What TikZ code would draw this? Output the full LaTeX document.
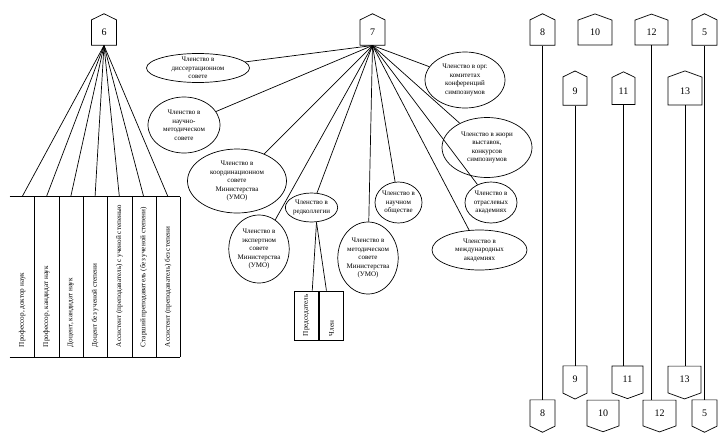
\documentclass[tikz,border=0pt]{standalone}
\usepackage{fontspec}
\setmainfont{Liberation Serif}
\usetikzlibrary{shapes,positioning}

\tikzset{
  tag/.style={signal, signal to=north, draw, signal pointer angle=128, minimum width=25pt, minimum height=27pt, inner sep=1pt, font=\fontsize{10}{11}\selectfont},
  tagdown/.style={tag, signal to=south},
  widetag/.style={signal pointer angle=140},
  member/.style={ellipse, draw, align=center, inner sep=0pt, font=\fontsize{7}{8.5}\selectfont},
  rankcol/.style={minimum width=24.3pt, minimum height=160pt, inner sep=0pt},
  ranktext/.style={rotate=90, anchor=west, inner sep=0pt, font=\fontsize{7.2}{8}\selectfont},
  rolecol/.style={draw, minimum width=24.5pt, minimum height=49pt, inner sep=0pt},
}

\begin{document}
\begin{tikzpicture}[x=1pt, y=-1pt, line width=0.7pt]
    \useasboundingbox (0,0) rectangle (725,445);

    % Positions
    \node[tag] (n6) at (104,32.5) {6};
    \foreach \rank [count=\i] in {{Профессор, доктор наук}, {Профессор, кандидат наук}, {Доцент, кандидат наук}, {Доцент без ученой степени}, {Ассистент (преподаватель) с ученой степенью}, {Старший преподаватель (без ученой степени)}, {Ассистент (преподаватель) без степени}} {
        \node[rankcol] (c\i) at ({22.15+24.3*(\i-1)},277) {};
        \node[ranktext] at ([yshift=10pt]c\i.south) {\rank};
        \draw (n6.south) -- (c\i.north);
        \draw (c\i.north east) -- (c\i.south east);
    }
    \draw (c1.north west) -- (c7.north east) (c1.south west) -- (c7.south east);

    % Memberships
    \node[tag] (n7) at (372.5,32.5) {7};
    \node[member, minimum width=103pt, minimum height=29pt, inner ysep=-2pt] (diss) at (198,68) {Членство в\\диссертационном\\совете};
    \node[member, minimum width=72pt, minimum height=56pt] (method) at (184,125) {Членство в\\научно-\\методическом\\совете};
    \node[member, minimum width=99pt, minimum height=64pt] (coord) at (237,181) {Членство в\\координационном\\совете\\Министерства\\(УМО)};
    \node[member, minimum width=51pt, minimum height=29pt] (edit) at (311.5,207.5) {Членство в\\редколлегии};
    \node[member, minimum width=58pt, minimum height=68pt] (expert) at (259,249) {Членство в\\экспертном\\совете\\Министерства\\(УМО)};
    \node[member, minimum width=60pt, minimum height=72pt] (study) at (368,258) {Членство в\\методическом\\совете\\Министерства\\(УМО)};
    \node[member, minimum width=47pt, minimum height=41pt] (society) at (398.5,202.5) {Членство в\\научном\\обществе};
    \node[member, minimum width=52pt, minimum height=41pt] (branch) at (491,202.5) {Членство в\\отраслевых\\академиях};
    \node[member, minimum width=95pt, minimum height=40pt] (intl) at (479.5,250) {Членство в\\международных\\академиях};
    \node[member, minimum width=80pt, minimum height=56pt] (orgcom) at (465,80) {Членство в орг.\\комитетах\\конференций\\симпозиумов};
    \node[member, minimum width=90pt, minimum height=60pt] (jury) at (487,147.5) {Членство в жюри\\выставок,\\конкурсов\\симпозиумов};
    \foreach \m in {diss,method,coord,edit,expert,study,society,branch,intl,orgcom,jury}
        \draw (n7.south) -- (\m);

    % Editorial board
    \node[rolecol] (chair) at (306.25,315.5) {};
    \node[rolecol, right=0pt of chair] (memb) {};
    \node[ranktext] at ([yshift=4pt]chair.south) {Председатель};
    \node[ranktext] at ([yshift=4pt]memb.south) {Член};
    \draw ([xshift=5pt]edit.south) -- ([xshift=6pt]chair.north);
    \draw ([xshift=5pt]edit.south) -- ([xshift=-5pt]memb.north);

    % Top tags
    \node[tag] (t8) at (542.5,32.5) {8};
    \node[tag, widetag, minimum width=34pt] (t10) at (595,32.5) {10};
    \node[tag, widetag, minimum width=33pt] (t12) at (651.5,32.5) {12};
    \node[tag] (t5) at (704.5,32.5) {5};
    \node[tag, minimum width=24pt, minimum height=30pt] (t9) at (575,91) {9};
    \node[tag, minimum width=23pt, minimum height=30pt] (t11) at (623.5,91) {11};
    \node[tag, widetag, minimum width=34pt, minimum height=30pt] (t13) at (685,91) {13};

    % Bottom tags
    \node[tagdown, minimum width=24pt, minimum height=29pt] (b9) at (575,379.5) {9};
    \node[tagdown, widetag, minimum width=31pt, minimum height=29pt] (b11) at (627.5,379.5) {11};
    \node[tagdown, widetag, minimum width=33pt, minimum height=29pt] (b13) at (684.5,379.5) {13};
    \node[tagdown, minimum height=28pt] (b8) at (542.5,413) {8};
    \node[tagdown, widetag, minimum width=32pt, minimum height=28pt] (b10) at (603,413) {10};
    \node[tagdown, widetag, minimum width=33pt, minimum height=28pt] (b12) at (659.5,413) {12};
    \node[tagdown, minimum height=28pt] (b5) at (704.5,413) {5};

    \foreach \n in {8,9,11,12,13,5}
        \draw (t\n.south) -- (t\n.south |- b\n.north);
\end{tikzpicture}
\end{document}
